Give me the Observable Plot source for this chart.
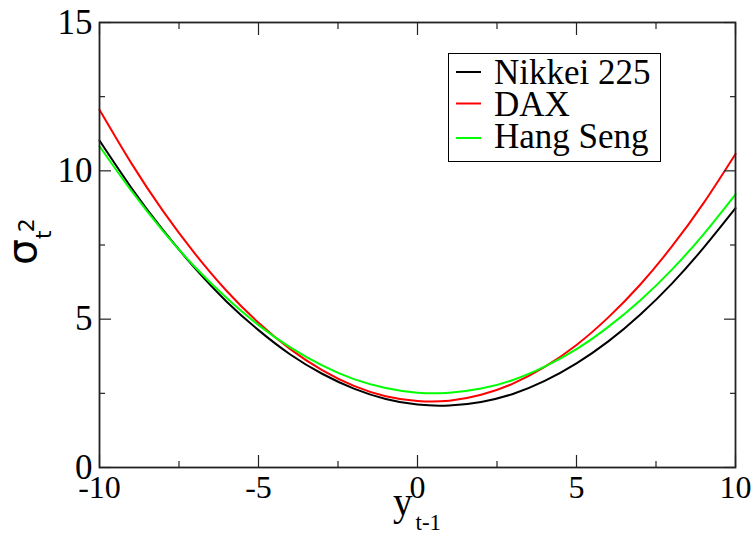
<!DOCTYPE html>
<html><head><meta charset="utf-8">
<script src="https://cdn.jsdelivr.net/npm/d3@7"></script>
<script src="https://cdn.jsdelivr.net/npm/@observablehq/plot@0.6"></script>
<style>body{margin:0;background:#fff} svg{display:block}</style>
</head><body><div id="chart"></div>
<script>
// ---- data ----
const xs       = [-10, -9, -8, -7, -6, -5, -4, -3, -2, -1, 0, 1, 2, 3, 4, 5, 6, 7, 8, 9, 10];
const nikkei   = [11.02, 9.43, 8.00, 6.72, 5.59, 4.63, 3.81, 3.16, 2.66, 2.31, 2.12, 2.09, 2.21, 2.48, 2.92, 3.51, 4.25, 5.15, 6.20, 7.41, 8.74];
const dax      = [12.06, 10.26, 8.64, 7.21, 5.95, 4.88, 3.99, 3.28, 2.75, 2.40, 2.24, 2.25, 2.45, 2.83, 3.39, 4.13, 5.06, 6.16, 7.45, 8.92, 10.57];
const hangSeng = [10.83, 9.33, 7.97, 6.76, 5.71, 4.80, 4.05, 3.44, 2.98, 2.68, 2.52, 2.52, 2.66, 2.95, 3.40, 3.99, 4.74, 5.63, 6.67, 7.87, 9.21];
const seriesNames  = ["Nikkei 225", "DAX", "Hang Seng"];
const seriesColors = ["#000000", "#ff0000", "#00ff00"];
const xMajor = [-10, -5, 0, 5, 10];
const xMinor = [-7.5, -2.5, 2.5, 7.5];
const yMajor = [0, 5, 10, 15];
const yMinor = [2.5, 7.5, 12.5];

const allSeries = [nikkei, dax, hangSeng];
const rows = allSeries.flatMap((vals, i) => xs.map((x, j) => ({x, y: vals[j], name: seriesNames[i]})));

const frameColor = "#222";
const plainFormat = d => String(d);
const tickMarks = (axisFn, anchor, values, size) =>
  axisFn(values, {anchor, tickSize: -size, tickFormat: () => "", label: null, stroke: frameColor, strokeWidth: 1.2});

const chart = Plot.plot({
  width: 754, height: 535,
  marginLeft: 99, marginRight: 19, marginTop: 22, marginBottom: 68,
  style: {fontFamily: "'Liberation Serif', 'Times New Roman', serif", fontSize: "30px", color: "#000", background: "#fff"},
  x: {domain: [-10, 10]},
  y: {domain: [0, 15]},
  color: {domain: seriesNames, range: seriesColors},
  marks: [
    Plot.line(rows, {x: "x", y: "y", z: "name", stroke: "name", strokeWidth: 2, curve: "natural"}),
    // labels
    Plot.axisX(xMajor, {anchor: "bottom", tickSize: 0, tickPadding: 8, label: null, fontSize: 32, tickFormat: plainFormat}),
    Plot.axisY(yMajor, {anchor: "left", tickSize: 0, tickPadding: 7, label: null, fontSize: 35, tickFormat: plainFormat}),
    // inward ticks on all four sides
    tickMarks(Plot.axisX, "bottom", xMajor, 12), tickMarks(Plot.axisX, "bottom", xMinor, 6),
    tickMarks(Plot.axisX, "top", xMajor, 12), tickMarks(Plot.axisX, "top", xMinor, 6),
    tickMarks(Plot.axisY, "left", yMajor, 12), tickMarks(Plot.axisY, "left", yMinor, 6),
    tickMarks(Plot.axisY, "right", yMajor, 12), tickMarks(Plot.axisY, "right", yMinor, 6),
    Plot.frame({stroke: frameColor, strokeWidth: 1.8})
  ]
});
document.getElementById("chart").appendChild(chart);

const svg = d3.select(chart);
const serif = "'Liberation Serif', 'Times New Roman', serif";

// x-axis title: y_{t-1}
const xt = svg.append("text").attr("x", 393).attr("y", 515).attr("text-anchor", "start")
  .attr("font-family", serif).attr("font-size", 39).attr("fill", "#000");
xt.append("tspan").text("y");
xt.append("tspan").attr("font-size", 23).attr("dx", 3).attr("dy", 15).text("t-1");

// y-axis title: sigma_t^2 (rotated)
const yt = svg.append("text").attr("transform", "translate(36,265) rotate(-90)").attr("text-anchor", "start")
  .attr("font-family", "'DejaVu Sans', sans-serif").attr("font-size", 41).attr("fill", "#000");
yt.append("tspan").text("σ");
yt.append("tspan").attr("font-size", 22).attr("dy", 15).text("t");
yt.append("tspan").attr("font-size", 22).attr("dy", -17).attr("dx", -2).text("2");

// legend
const lg = svg.append("g");
lg.append("rect").attr("x", 448.5).attr("y", 53.5).attr("width", 212).attr("height", 108)
  .attr("fill", "#fff").attr("stroke", "#000").attr("stroke-width", 1);
const rowY = [72, 103.5, 138];
const baseY = [84, 116, 147.5];
seriesNames.forEach((name, i) => {
  lg.append("line").attr("x1", 456).attr("x2", 481).attr("y1", rowY[i]).attr("y2", rowY[i])
    .attr("stroke", seriesColors[i]).attr("stroke-width", 2);
  lg.append("text").attr("x", 494).attr("y", baseY[i]).attr("text-anchor", "start").attr("font-family", serif)
    .attr("font-size", 35).attr("fill", "#000").text(name);
});
</script>
</body></html>
